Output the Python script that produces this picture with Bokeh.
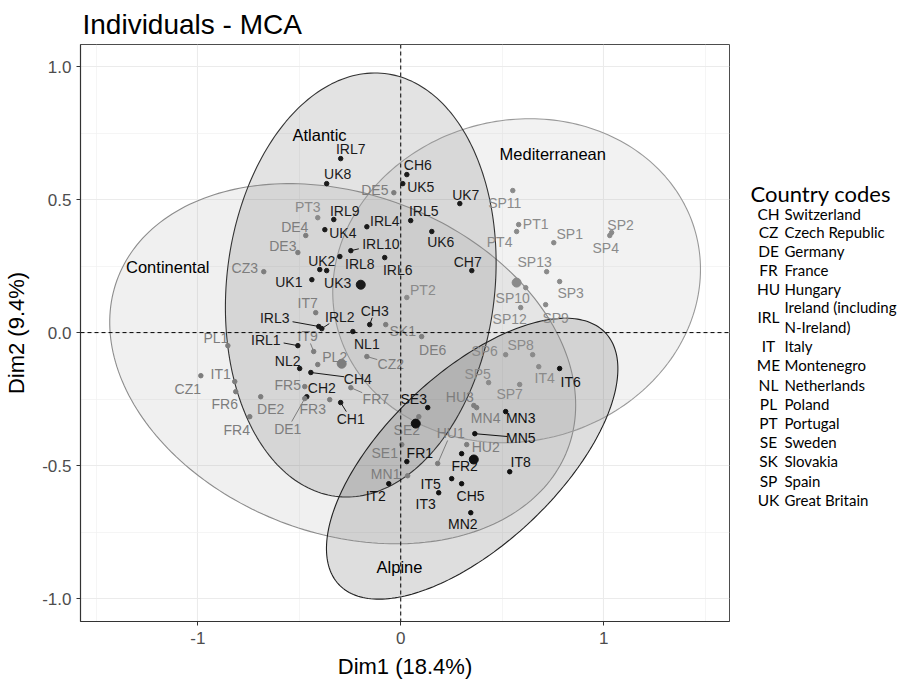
import numpy as np
from bokeh.plotting import figure
from bokeh.layouts import row
from bokeh.models import Span, Range1d, FixedTicker, ColumnDataSource, CustomJSTickFormatter
from bokeh.core.properties import value
from bokeh.embed import file_html
from bokeh.resources import INLINE

# ---------------- data ----------------
names = ["IRL7","UK8","CH6","UK5","UK7","IRL9","IRL5","IRL4","UK4","IRL10","UK6","UK2","IRL8","IRL6",
         "UK1","UK3","CH7","CH3","IRL2","IRL3","NL1","IRL1","NL2","CH4","CH2","CH1",
         "SE3","FR1","IT2","IT5","IT3","FR2","CH5","MN2","IT8","MN3","MN5","IT6",
         "FR7","SE2","SE1","MN1","HU1","MN4","HU3","HU2","DE5","DE4","DE3","CZ3","IT7","SK1",
         "IT9","PL2","CZ2","DE6","FR5","DE2","FR3","DE1","PL1","IT1","CZ1","FR6","FR4",
         "PT3","PT2","SP11","PT1","PT4","SP1","SP2","SP4","SP13","SP10","SP3","SP12","SP9",
         "SP8","SP6","IT4","SP5","SP7"]
dim1 = [-0.296,-0.365,0.030,0.010,0.291,-0.330,0.049,-0.167,-0.374,-0.246,0.153,-0.399,-0.300,-0.079,
        -0.438,-0.365,0.350,-0.153,-0.389,-0.404,-0.236,-0.507,-0.498,-0.443,-0.463,-0.296,
        0.133,0.030,-0.059,0.251,0.187,0.300,0.300,0.345,0.537,0.517,0.365,0.783,
        -0.246,0.089,0.005,0.034,0.182,0.374,0.360,0.325,-0.034,-0.468,-0.507,-0.675,-0.419,-0.074,
        -0.429,-0.409,-0.167,0.103,-0.473,-0.690,-0.350,-0.473,-0.852,-0.818,-0.985,-0.813,-0.744,
        -0.409,0.030,0.552,0.581,0.571,0.754,1.039,1.030,0.719,0.616,0.783,0.591,0.714,
        0.650,0.517,0.680,0.433,0.586]
dim2 = [0.654,0.560,0.594,0.560,0.485,0.425,0.421,0.398,0.387,0.308,0.380,0.237,0.286,0.282,
        0.199,0.233,0.233,0.030,0.015,0.023,0.004,-0.049,-0.135,-0.150,-0.241,-0.263,
        -0.282,-0.485,-0.568,-0.549,-0.602,-0.455,-0.568,-0.677,-0.523,-0.297,-0.380,-0.135,
        -0.207,-0.316,-0.421,-0.538,-0.492,-0.282,-0.274,-0.421,0.526,0.365,0.301,0.229,0.075,0.030,
        -0.071,-0.120,-0.090,-0.015,-0.203,-0.241,-0.252,-0.248,-0.049,-0.184,-0.162,-0.222,-0.316,
        0.432,0.132,0.534,0.406,0.380,0.338,0.376,0.365,0.229,0.169,0.192,0.094,0.105,
        -0.083,-0.083,-0.128,-0.188,-0.195]
groups = (["Atlantic"] * 26 + ["Alpine"] * 12 + ["Continental"] * 27 + ["Mediterranean"] * 18)

# group means
centroid_x = [-0.197, -0.291, 0.571, 0.360, 0.074]
centroid_y = [0.180, -0.117, 0.188, -0.477, -0.342]
centroid_group = ["Atlantic", "Continental", "Mediterranean", "Alpine", "Alpine"]

# concentration ellipses: centre, sd along dims, correlation
ell_group = ["Continental", "Mediterranean", "Atlantic", "Alpine"]
ell_cx = [-0.286, 0.571, -0.197, 0.352]
ell_cy = [-0.117, 0.195, 0.179, -0.474]
ell_sx = [1.148, 0.906, 0.667, 0.718]
ell_sy = [0.677, 0.609, 0.797, 0.528]
ell_rho = [-0.23, 0.07, 0.105, 0.64]

group_label_x = [-0.400, 0.749, -1.148, -0.006]
group_label_y = [0.741, 0.672, 0.245, -0.882]
group_label_text = ["Atlantic", "Mediterranean", "Continental", "Alpine"]

legend_title = "Country codes"
legend_codes = ["CH","CZ","DE","FR","HU","IRL","IT","ME","NL","PL","PT","SE","SK","SP","UK"]
legend_names = ["Switzerland","Czech Republic","Germany","France","Hungary",
                "Ireland (including\nN-Ireland)","Italy","Montenegro","Netherlands","Poland",
                "Portugal","Sweden","Slovakia","Spain","Great Britain"]

# ---------------- styles / layout ----------------
point_color = {"Atlantic": "#1a1a1a", "Alpine": "#111111", "Continental": "#7d7d7d", "Mediterranean": "#8a8a8a"}
ell_fill = {"Atlantic": "#404040", "Alpine": "#202020", "Continental": "#999999", "Mediterranean": "#aaaaaa"}
ell_line = {"Atlantic": "#333333", "Alpine": "#222222", "Continental": "#8c8c8c", "Mediterranean": "#999999"}

# label offsets in screen pixels (dx right, dy down)
label_offsets = {
    "IRL7": (10,-10), "UK8": (11,-10), "CH6": (11,-10), "UK5": (18,3), "UK7": (6,-9), "IRL9": (11,-9),
    "IRL5": (13,-10), "IRL4": (18,-6), "UK4": (18,3), "IRL10": (30,-7), "UK6": (9,10), "UK2": (2,-9),
    "IRL8": (20,7), "IRL6": (13,12), "UK1": (-23,2), "UK3": (11,12), "CH7": (-4,-9), "CH3": (5,-14),
    "IRL2": (18,-12), "IRL3": (-44,-8), "NL1": (14,12), "IRL1": (-32,-6), "NL2": (-12,-8), "CH4": (47,6),
    "CH2": (15,-9), "CH1": (10,16), "SE3": (-14,-9), "FR1": (13,-9), "IT2": (-13,12), "IT5": (-21,5),
    "IT3": (-13,11), "FR2": (3,12), "CH5": (9,12), "MN2": (-8,11), "IT8": (11,-10), "MN3": (15,6),
    "MN5": (46,4), "IT6": (11,13), "FR7": (25,11), "SE2": (-12,13), "SE1": (-17,8), "MN1": (-22,-2),
    "HU1": (13,-30), "MN4": (9,10), "HU3": (-14,-8), "HU2": (19,2), "DE5": (-19,-3), "DE4": (-11,-9),
    "DE3": (-15,-7), "CZ3": (-19,-4), "IT7": (-8,-10), "SK1": (17,6), "IT9": (-6,-15), "PL2": (17,-8),
    "CZ2": (24,7), "DE6": (11,13), "FR5": (-17,-2), "DE2": (10,12), "FR3": (-17,9), "DE1": (-17,30),
    "PL1": (-12,-8), "IT1": (-14,-8), "CZ1": (-13,13), "FR6": (-11,12), "FR4": (-13,13),
    "PT3": (-10,-11), "PT2": (16,-7), "SP11": (-8,12), "PT1": (17,-1), "PT4": (-17,10), "SP1": (16,-9),
    "SP2": (9,-8), "SP4": (-4,12), "SP13": (-12,-10), "SP10": (-13,10), "SP3": (11,11), "SP12": (-11,11),
    "SP9": (10,13), "SP8": (-12,-10), "SP6": (-21,-4), "IT4": (6,11), "SP5": (-11,-9), "SP7": (-10,10),
}
connected = {"IRL10","CH3","IRL2","IRL3","IRL1","CH4","CH1","FR7","HU1","MN5","IT9","CZ2","DE1"}

X0, X1 = -1.578, 1.62
Y0, Y1 = -1.086, 1.083
FW, FH = 649, 577
BL, BT, BB, BR = 80, 44, 62, 8
kx = FW / (X1 - X0)
ky = FH / (Y1 - Y0)

p = figure(frame_width=FW, frame_height=FH, x_range=Range1d(X0, X1), y_range=Range1d(Y0, Y1),
           output_backend="svg", toolbar_location=None,
           min_border_left=BL, min_border_right=BR, min_border_top=BT, min_border_bottom=BB)
p.background_fill_color = "white"
p.border_fill_color = "white"
p.outline_line_color = "#4d4d4d"
p.outline_line_width = 1

# title
p.title.text = "Individuals - MCA"
p.title.text_font = "Liberation Sans"
p.title.text_font_size = "28px"
p.title.text_font_style = "normal"
p.title.text_color = "#000000"
p.title.standoff = 10
p.title.offset = 2

# grid
p.xaxis.ticker = FixedTicker(ticks=[-1, 0, 1], minor_ticks=[-1.5, -0.5, 0.5, 1.5])
p.yaxis.ticker = FixedTicker(ticks=[-1, -0.5, 0, 0.5, 1], minor_ticks=[-0.75, -0.25, 0.25, 0.75])
for g in (p.xgrid, p.ygrid):
    g.grid_line_color = "#ebebeb"
    g.grid_line_width = 1.1
    g.minor_grid_line_color = "#f1f1f1"
    g.minor_grid_line_width = 0.7

p.xaxis.formatter = CustomJSTickFormatter(code="return tick.toFixed(0);")
p.yaxis.formatter = CustomJSTickFormatter(code="return tick.toFixed(1);")
for ax in (p.xaxis, p.yaxis):
    ax.axis_line_color = "#333333"
    ax.axis_line_width = 1.2
    ax.major_tick_line_color = "#333333"
    ax.major_tick_in = 0
    ax.major_tick_out = 4
    ax.minor_tick_line_color = None
    ax.major_label_text_font = "Liberation Sans"
    ax.major_label_text_font_size = "17px"
    ax.major_label_text_color = "#4d4d4d"
    ax.axis_label_text_font = "Liberation Sans"
    ax.axis_label_text_font_size = "22px"
    ax.axis_label_text_font_style = "normal"
    ax.axis_label_text_color = "#000000"
p.xaxis.axis_label = "Dim1 (18.4%)"
p.yaxis.axis_label = "Dim2 (9.4%)"
p.xaxis.major_label_standoff = 6
p.yaxis.major_label_standoff = 5
p.xaxis.axis_label_standoff = 7
p.yaxis.axis_label_standoff = 10

# ellipses
t = np.linspace(0, 2 * np.pi, 240)
for g, cx, cy, sx, sy, r in zip(ell_group, ell_cx, ell_cy, ell_sx, ell_sy, ell_rho):
    ex = cx + sx * np.cos(t)
    ey = cy + sy * (r * np.cos(t) + np.sqrt(1 - r * r) * np.sin(t))
    p.patch(ex, ey, fill_color=ell_fill[g], fill_alpha=0.15, line_color=None)
for g, cx, cy, sx, sy, r in zip(ell_group, ell_cx, ell_cy, ell_sx, ell_sy, ell_rho):
    ex = cx + sx * np.cos(t)
    ey = cy + sy * (r * np.cos(t) + np.sqrt(1 - r * r) * np.sin(t))
    p.line(ex, ey, line_color=ell_line[g], line_width=1.1)

# reference lines
p.add_layout(Span(location=0, dimension="height", line_color="#000000", line_dash="4 3", line_width=1))
p.add_layout(Span(location=0, dimension="width", line_color="#000000", line_dash="4 3", line_width=1))

# points and labels
colors = [point_color[g] for g in groups]
dx = [label_offsets[n][0] for n in names]
dy = [label_offsets[n][1] for n in names]
src = ColumnDataSource(dict(x=dim1, y=dim2, name=names, color=colors, dx=dx, dy=dy))

# connector segments
sx0, sy0, sx1, sy1, sc = [], [], [], [], []
for n, x, y, c, ddx, ddy in zip(names, dim1, dim2, colors, dx, dy):
    if n not in connected:
        continue
    w = len(n) * 4.2 + 1
    h = 7.0
    s = min(w / abs(ddx) if ddx else 1e9, h / abs(ddy) if ddy else 1e9)
    f = max(0.0, 1 - s)
    sx0.append(x); sy0.append(y)
    sx1.append(x + ddx * f / kx); sy1.append(y - ddy * f / ky)
    sc.append(c)
p.segment(x0=sx0, y0=sy0, x1=sx1, y1=sy1, line_color=sc, line_width=1)

p.scatter("x", "y", source=src, size=4.5, fill_color="color", line_color="color")
p.text("x", "y", text="name", source=src, x_offset="dx", y_offset="dy",
       text_align="center", text_baseline="middle", text_color="color",
       text_font=value("Liberation Sans"), text_font_size="14px")

p.scatter(centroid_x, centroid_y, size=9,
          fill_color=[point_color[g] for g in centroid_group],
          line_color=[point_color[g] for g in centroid_group])

p.text(group_label_x, group_label_y, text=group_label_text, text_align="center",
       text_baseline="middle", text_color="#000000",
       text_font=value("Liberation Sans"), text_font_size="16.5px")

# ---------------- country-code panel (page pixel coordinates, y down) ----------------
PW = BL + FW + BR
PH = BT + FH + BB
LW = 898 - PW
# the panel's frame is aligned with the main plot frame (page y 44..621)
leg = figure(width=LW, height=PH, x_range=Range1d(PW, PW + LW), y_range=Range1d(BT + FH, BT),
             output_backend="svg", toolbar_location=None, x_axis_type=None, y_axis_type=None,
             min_border=0)
leg.outline_line_color = None
leg.xgrid.visible = False
leg.ygrid.visible = False
leg.background_fill_color = "white"
leg.border_fill_color = "white"

title_xy = (750, 193)
row_y = [213, 231, 250, 269, 288, 316, 345, 364, 384, 403, 422, 441, 460, 480, 499]
code_x = 768
name_x = 784

leg.text([title_xy[0]], [title_xy[1]], text=[legend_title], text_align="left", text_baseline="middle",
         text_color="#000000", text_font=value("Lato"), text_font_size="22px")
leg.text([code_x] * len(legend_codes), row_y, text=legend_codes, text_align="center",
         text_baseline="middle", text_color="#000000", text_font=value("Lato"), text_font_size="15.5px")
nm_x, nm_y, nm_t = [], [], []
for nm, ry in zip(legend_names, row_y):
    lines = nm.split("\n")
    offs = [0] if len(lines) == 1 else [-10, 10]
    for ln, o in zip(lines, offs):
        nm_x.append(name_x); nm_y.append(ry + o); nm_t.append(ln)
leg.text(nm_x, nm_y, text=nm_t, text_align="left", text_baseline="middle",
         text_color="#000000", text_font=value("Lato"), text_font_size="15px")

layout = row(p, leg)
open("out.html", "w").write(file_html(layout, INLINE))
